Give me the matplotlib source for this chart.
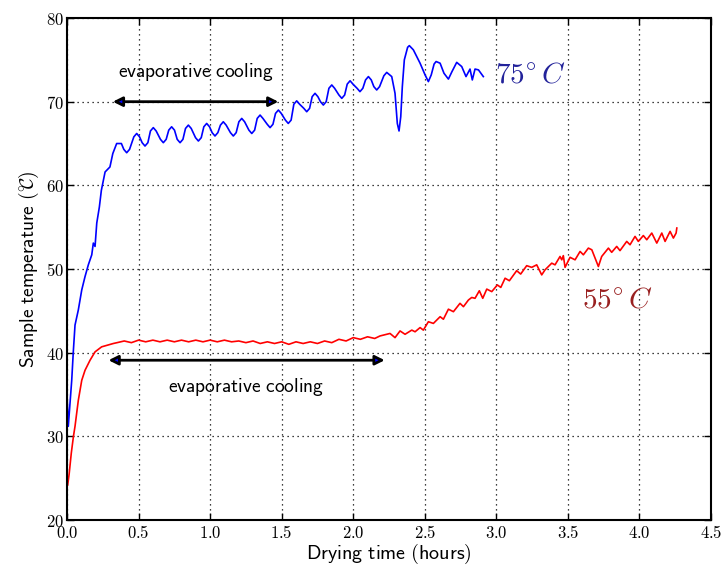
import matplotlib
matplotlib.use('Agg')
import matplotlib.pyplot as plt
from matplotlib.ticker import FuncFormatter, MultipleLocator

plt.rcParams['mathtext.fontset'] = 'cm'

# 75 C run: (hours, deg C)
run75 = [
    (0.0, 35.0), (0.009, 31.2), (0.021, 33.9), (0.033, 36.7), (0.044, 40.1),
    (0.056, 43.3), (0.079, 45.1), (0.103, 47.5), (0.126, 49.1), (0.149, 50.5),
    (0.173, 51.7), (0.184, 53.1), (0.196, 52.7), (0.208, 55.5), (0.226, 57.4),
    (0.24, 59.4), (0.266, 61.6), (0.30, 62.2), (0.32, 63.8), (0.347, 65.0),
    (0.38, 65.0),
    (0.397, 64.3), (0.417, 63.9), (0.437, 64.3), (0.467, 65.8), (0.487, 66.2), (0.507, 65.8),
    (0.525, 65.1), (0.545, 64.7), (0.565, 65.1), (0.583, 66.5), (0.603, 66.9), (0.623, 66.5),
    (0.653, 65.5), (0.673, 65.1), (0.693, 65.5), (0.711, 66.6), (0.731, 67.0), (0.751, 66.6),
    (0.770, 65.5), (0.790, 65.1), (0.810, 65.5), (0.828, 66.8), (0.848, 67.2), (0.868, 66.8),
    (0.898, 65.7), (0.918, 65.3), (0.938, 65.7), (0.956, 67.0), (0.976, 67.4), (0.996, 67.0),
    (1.014, 66.3), (1.034, 65.9), (1.054, 66.3), (1.072, 67.2), (1.092, 67.6), (1.112, 67.2),
    (1.142, 66.3), (1.162, 65.9), (1.182, 66.3), (1.201, 67.6), (1.221, 68.0), (1.241, 67.6),
    (1.271, 66.6), (1.291, 66.2), (1.311, 66.6), (1.329, 68.0), (1.349, 68.4), (1.369, 68.0),
    (1.399, 67.3), (1.419, 66.9), (1.439, 67.3), (1.457, 68.6), (1.477, 69.0), (1.497, 68.6),
    (1.526, 67.8), (1.546, 67.4), (1.566, 67.8), (1.585, 69.7), (1.605, 70.1), (1.625, 69.7),
    (1.655, 69.2), (1.675, 68.8), (1.695, 69.2), (1.713, 70.6), (1.733, 71.0), (1.753, 70.6),
    (1.771, 70.0), (1.791, 69.6), (1.811, 70.0), (1.830, 71.6), (1.850, 72.0), (1.870, 71.6),
    (1.900, 70.8), (1.920, 70.4), (1.940, 70.8), (1.958, 72.1), (1.978, 72.5), (1.998, 72.1),
    (2.027, 71.6), (2.047, 71.2), (2.067, 71.6), (2.086, 72.6), (2.106, 73.0), (2.126, 72.6),
    (2.144, 71.8), (2.164, 71.4), (2.184, 71.8), (2.214, 73.1), (2.234, 73.5),
    (2.269, 73.0), (2.292, 71.0), (2.308, 67.4), (2.320, 66.5), (2.332, 68.2),
    (2.343, 71.8), (2.357, 75.0), (2.380, 76.5), (2.392, 76.7), (2.420, 76.2),
    (2.467, 74.6), (2.502, 73.2), (2.525, 72.4), (2.545, 73.2), (2.565, 74.5),
    (2.579, 74.8), (2.607, 74.6), (2.634, 73.4), (2.665, 72.7), (2.690, 73.6),
    (2.723, 74.7), (2.758, 74.2), (2.788, 73.0), (2.816, 73.9), (2.832, 72.6),
    (2.851, 73.9), (2.875, 73.8), (2.909, 73.0),
]

# 55 C run
run55 = [
    (0.005, 24.2), (0.015, 25.5), (0.03, 28.0), (0.045, 30.0), (0.056, 31.2),
    (0.079, 34.3), (0.103, 36.7), (0.126, 37.9), (0.161, 39.1), (0.196, 40.1),
    (0.242, 40.7), (0.324, 41.1),
    (0.35, 41.2), (0.40, 41.4), (0.45, 41.2), (0.50, 41.5), (0.55, 41.3), (0.60, 41.5),
    (0.65, 41.3), (0.70, 41.5), (0.75, 41.3), (0.80, 41.5), (0.85, 41.3), (0.90, 41.5),
    (0.95, 41.3), (1.00, 41.5), (1.05, 41.3), (1.10, 41.5), (1.15, 41.3), (1.20, 41.4),
    (1.25, 41.2), (1.30, 41.4), (1.35, 41.1), (1.40, 41.3), (1.45, 41.1), (1.50, 41.3),
    (1.55, 41.0), (1.60, 41.3), (1.65, 41.1), (1.70, 41.3), (1.75, 41.1), (1.80, 41.4),
    (1.85, 41.2), (1.90, 41.6), (1.95, 41.4), (2.00, 41.8), (2.05, 41.6), (2.10, 41.9),
    (2.15, 41.7),
    (2.187, 42.0), (2.257, 42.3), (2.292, 41.8), (2.327, 42.6), (2.362, 42.2),
    (2.409, 42.7), (2.432, 42.5), (2.467, 43.0), (2.490, 42.7), (2.525, 43.7),
    (2.560, 43.5), (2.607, 44.3), (2.630, 44.0), (2.665, 45.2), (2.700, 44.9),
    (2.746, 45.9), (2.770, 45.5), (2.805, 46.3), (2.828, 46.6), (2.851, 46.5),
    (2.881, 47.4), (2.905, 46.5), (2.933, 47.6), (2.968, 47.3), (3.007, 48.1),
    (3.031, 47.8), (3.061, 48.9), (3.091, 48.6), (3.142, 49.8), (3.170, 49.4),
    (3.212, 50.4), (3.247, 50.2), (3.282, 50.5), (3.317, 49.3), (3.340, 49.9),
    (3.387, 50.7), (3.410, 50.5), (3.445, 51.5), (3.457, 51.1), (3.468, 51.6),
    (3.480, 50.2), (3.515, 51.4), (3.550, 51.1), (3.585, 52.1), (3.608, 51.7),
    (3.643, 52.5), (3.667, 52.3), (3.690, 51.3), (3.713, 50.3), (3.736, 51.5),
    (3.783, 52.5), (3.806, 52.0), (3.841, 52.7), (3.864, 52.2), (3.911, 53.3),
    (3.934, 52.9), (3.969, 53.9), (3.992, 53.3), (4.027, 54.0), (4.051, 53.5),
    (4.086, 54.3), (4.121, 53.1), (4.156, 54.3), (4.179, 53.3), (4.214, 54.5),
    (4.237, 53.7), (4.256, 54.3), (4.261, 54.9),
]

t75, T75 = zip(*run75)
t55, T55 = zip(*run55)

fig = plt.figure(figsize=(7.22, 5.65), dpi=100)
ax = fig.add_axes([0.0928, 0.0796, 0.892, 0.8885])

ax.plot(t75, T75, color='b', lw=1.2)
ax.plot(t55, T55, color='r', lw=1.2)

ax.set_xlim(0, 4.5)
ax.set_ylim(20, 80)
ax.xaxis.set_major_locator(MultipleLocator(0.5))
ax.yaxis.set_major_locator(MultipleLocator(10))
ax.xaxis.set_major_formatter(FuncFormatter(lambda v, p: '$%.1f$' % v))
ax.yaxis.set_major_formatter(FuncFormatter(lambda v, p: '$%d$' % v))
ax.tick_params(direction='in', top=True, right=True, length=5, width=1,
               labelsize=12, pad=3)
ax.tick_params(axis='y', pad=2)
for s in ax.spines.values():
    s.set_linewidth(1.5)
ax.grid(True, color='k', linestyle=(0, (1, 3)), lw=0.9)

ax.set_xlabel(r'$\mathsf{Drying\ time\ (hours)}$', fontsize=14.5, labelpad=0)
ax.set_ylabel(r'$\mathsf{Sample\ temperature\ (}{}^{\circ}\!\!\mathcal{C}\mathsf{)}$',
              fontsize=14, labelpad=4)

# evaporative cooling plateaus
arr = dict(arrowstyle='<|-|>', fc='b', ec='k', lw=2, mutation_scale=14,
           shrinkA=0, shrinkB=0)
ax.annotate('', xy=(1.477, 70), xytext=(0.32, 70), arrowprops=arr)
ax.text(0.9, 73.6, r'$\mathsf{evaporative\ cooling}$', fontsize=14,
        ha='center', va='center')
ax.annotate('', xy=(2.22, 39.1), xytext=(0.29, 39.1), arrowprops=arr)
ax.text(1.25, 35.9, r'$\mathsf{evaporative\ cooling}$', fontsize=14,
        ha='center', va='center')

ax.text(2.99, 73.3, r'$75^{\circ}\,C$', color='#22229a', fontsize=21,
        va='center')
ax.text(3.6, 46.3, r'$55^{\circ}\,C$', color='#992020', fontsize=21,
        va='center')

fig.savefig('out.png', dpi=100)
